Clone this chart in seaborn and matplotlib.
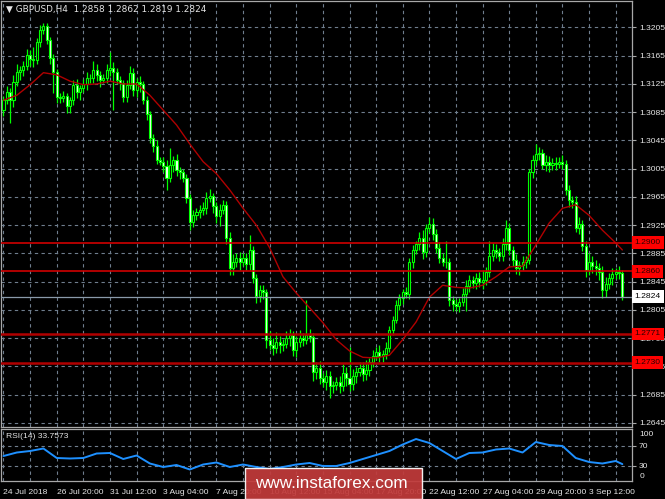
import numpy as np
import pandas as pd
import seaborn as sns
import matplotlib.pyplot as plt
import matplotlib.transforms as mtransforms
from matplotlib.patches import Rectangle

# GBPUSD H4 closes (one per bar)
closes = [1.3102, 1.3114, 1.3102, 1.3128, 1.3142, 1.3145, 1.3150, 1.3166, 1.3160, 1.3159,
          1.3184, 1.3201, 1.3207, 1.3187, 1.3162, 1.3142, 1.3107, 1.3105, 1.3108, 1.3094,
          1.3102, 1.3124, 1.3114, 1.3119, 1.3125, 1.3133, 1.3133, 1.3145, 1.3138, 1.3131,
          1.3133, 1.3145, 1.3148, 1.3142, 1.3131, 1.3126, 1.3107, 1.3124, 1.3141, 1.3116,
          1.3128, 1.3125, 1.3102, 1.3082, 1.3048, 1.3037, 1.3017, 1.3015, 1.3009, 1.2992,
          1.3010, 1.3017, 1.3003, 1.3000, 1.2992, 1.2964, 1.2930, 1.2939, 1.2944, 1.2947,
          1.2949, 1.2964, 1.2966, 1.2952, 1.2938, 1.2947, 1.2954, 1.2907, 1.2864, 1.2873,
          1.2879, 1.2873, 1.2879, 1.2870, 1.2890, 1.2850, 1.2825, 1.2833, 1.2830, 1.2763,
          1.2756, 1.2751, 1.2760, 1.2756, 1.2757, 1.2765, 1.2769, 1.2748, 1.2760, 1.2765,
          1.2763, 1.2769, 1.2767, 1.2717, 1.2723, 1.2709, 1.2703, 1.2711, 1.2697, 1.2699,
          1.2703, 1.2697, 1.2716, 1.2709, 1.2700, 1.2711, 1.2717, 1.2723, 1.2714, 1.2720,
          1.2731, 1.2740, 1.2746, 1.2740, 1.2743, 1.2751, 1.2777, 1.2791, 1.2812, 1.2822,
          1.2830, 1.2828, 1.2873, 1.2890, 1.2898, 1.2907, 1.2887, 1.2921, 1.2927, 1.2913,
          1.2893, 1.2879, 1.2873, 1.2873, 1.2819, 1.2813, 1.2810, 1.2816, 1.2828, 1.2839,
          1.2847, 1.2843, 1.2850, 1.2844, 1.2847, 1.2859, 1.2881, 1.2890, 1.2887, 1.2881,
          1.2898, 1.2921, 1.2890, 1.2876, 1.2864, 1.2869, 1.2873, 1.2876, 1.3000, 1.3017,
          1.3026, 1.3027, 1.3010, 1.3015, 1.3010, 1.3013, 1.3012, 1.3015, 1.3012, 1.2975,
          1.2961, 1.2958, 1.2921, 1.2927, 1.2896, 1.2862, 1.2873, 1.2867, 1.2864, 1.2859,
          1.2833, 1.2842, 1.2850, 1.2856, 1.2859, 1.2858, 1.2824]
first_open = 1.3088

# wick lengths in pips above / below the body
upper_pips = [6, 8, 5, 10, 12, 6, 8, 9, 7, 17, 6, 8, 4, 5, 4, 6, 4, 5, 7, 4,
              5, 6, 8, 5, 7, 9, 6, 12, 8, 5, 6, 9, 22, 8, 5, 6, 4, 7, 9, 6,
              5, 8, 4, 6, 5, 6, 8, 5, 7, 9, 25, 6, 9, 5, 4, 6, 5, 8, 6, 7,
              9, 8, 10, 5, 6, 8, 7, 5, 9, 11, 6, 8, 7, 6, 21, 5, 6, 8, 7, 5,
              12, 9, 14, 8, 7, 10, 9, 6, 8, 11, 7, 50, 9, 6, 8, 10, 7, 9, 8, 6,
              7, 9, 12, 8, 44, 10, 7, 9, 8, 14, 6, 8, 7, 9, 6, 8, 6, 5, 7, 6,
              5, 8, 6, 7, 5, 9, 11, 6, 10, 8, 6, 8, 7, 30, 5, 6, 7, 6, 8, 9,
              7, 6, 8, 9, 14, 7, 22, 10, 8, 6, 9, 12, 7, 6, 8, 5, 9, 6, 5, 7,
              14, 9, 6, 10, 8, 7, 9, 6, 10, 5, 7, 6, 8, 9, 5, 7, 12, 8, 9, 7,
              8, 10, 7, 9, 6, 8, 4]
lower_pips = [8, 6, 32, 9, 6, 12, 8, 5, 9, 10, 6, 7, 5, 6, 8, 30, 9, 7, 6, 10,
              10, 7, 9, 11, 6, 8, 7, 6, 9, 10, 5, 6, 8, 54, 6, 9, 8, 7, 6, 8,
              9, 12, 6, 8, 7, 9, 6, 5, 8, 17, 6, 9, 8, 10, 6, 8, 12, 7, 6, 9,
              7, 8, 6, 9, 10, 14, 6, 8, 10, 9, 7, 11, 6, 8, 9, 7, 10, 8, 9, 12,
              8, 10, 7, 12, 9, 6, 11, 8, 10, 7, 9, 6, 8, 12, 10, 9, 7, 11, 16, 10,
              8, 9, 7, 12, 10, 8, 9, 6, 10, 8, 9, 7, 6, 8, 9, 7, 6, 8, 5, 7,
              8, 6, 7, 9, 6, 8, 10, 7, 6, 9, 8, 7, 6, 8, 9, 10, 7, 8, 6, 24,
              9, 7, 8, 6, 10, 7, 8, 6, 9, 7, 6, 8, 7, 9, 8, 10, 7, 9, 6, 8,
              7, 9, 6, 8, 10, 7, 9, 6, 8, 7, 10, 8, 6, 9, 7, 11, 8, 10, 9, 12,
              11, 9, 8, 10, 7, 9, 5]

# moving average, sampled every 4 bars (last point on the final bar)
ma_bars = list(range(0, 185, 4)) + [186]
ma_vals = [1.3102, 1.3109, 1.3124, 1.3141, 1.3138, 1.3129, 1.3124, 1.3125, 1.3129, 1.3125,
           1.3125, 1.3109, 1.3088, 1.3067, 1.3040, 1.3015, 1.2998, 1.2975, 1.2949, 1.2925,
           1.2893, 1.2852, 1.2829, 1.2808, 1.2787, 1.2763, 1.2747, 1.2738, 1.2737, 1.2741,
           1.2763, 1.2788, 1.2823, 1.2840, 1.2837, 1.2836, 1.2840, 1.2852, 1.2866, 1.2867,
           1.2897, 1.2928, 1.2949, 1.2954, 1.2939, 1.2918, 1.2900, 1.2890]

# RSI(14), sampled every 4 bars
rsi_bars = list(range(0, 185, 4)) + [186]
rsi_vals = [50, 57, 60, 65, 46, 45, 46, 55, 56, 44, 51, 35, 28, 32, 23, 33, 37, 28, 33, 28,
            24, 28, 33, 36, 30, 30, 36, 44, 52, 60, 73, 84, 76, 60, 44, 56, 57, 63, 65, 57,
            78, 72, 70, 46, 38, 35, 40, 33.7573]

levels_light = [1.2900, 1.2860]
levels_dark = [1.2771, 1.2730]
last_price = 1.2824

tick_bars = list(range(0, 177, 16))
tick_labels = ['24 Jul 2018', '26 Jul 20:00', '31 Jul 12:00', '3 Aug 04:00', '7 Aug 20:00',
               '10 Aug 12:00', '15 Aug 04:00', '17 Aug 20:00', '22 Aug 12:00', '27 Aug 04:00',
               '29 Aug 20:00', '3 Sep 12:00']
price_ticks = [1.2645, 1.2685, 1.2725, 1.2765, 1.2805, 1.2845, 1.2885, 1.2925,
               1.2965, 1.3005, 1.3045, 1.3085, 1.3125, 1.3165, 1.3205]

sns.set_style('dark', {'axes.facecolor': 'black', 'figure.facecolor': 'black'})
plt.rcParams['font.family'] = ['Liberation Sans', 'DejaVu Sans']

df = pd.DataFrame({'bar': np.arange(len(closes)), 'close': closes})
df['open'] = [first_open] + closes[:-1]
df['top'] = df[['open', 'close']].max(axis=1)
df['bot'] = df[['open', 'close']].min(axis=1)
df['high'] = df['top'] + np.array(upper_pips) * 0.0001
df['low'] = df['bot'] - np.array(lower_pips) * 0.0001
df['bull'] = df['close'] >= df['open']

W, H = 665, 499
fig = plt.figure(figsize=(W / 100, H / 100), dpi=100)
fig.patch.set_facecolor('black')
ax = fig.add_axes([1 / W, 1 - 427 / H, 631 / W, 426 / H])
ax_rsi = fig.add_axes([1 / W, 1 - 481 / H, 631 / W, 52 / H], sharex=ax)

grid_col = '#6F7E8E'
txt_col = '#E6E6E6'
green = '#00FF00'
fs = 6.1

for a in (ax, ax_rsi):
    a.set_facecolor('black')
    for s in a.spines.values():
        s.set_color('#A8A8A8')
        s.set_linewidth(0.9)
    a.yaxis.tick_right()
    a.tick_params(axis='both', colors='#A8A8A8', labelcolor=txt_col, labelsize=fs,
                  length=3, width=0.8, direction='out', pad=2)
    a.set_xticks(np.arange(0, 189, 8), minor=True)
    a.grid(True, which='both', axis='x', color=grid_col, linestyle=(0, (3, 3)), lw=0.8)
    a.grid(True, which='major', axis='y', color=grid_col, linestyle=(0, (3, 3)), lw=0.8)
    a.tick_params(axis='x', which='minor', length=0)

# price panel
ax.vlines(df['bar'], df['low'], df['high'], color=green, lw=0.9, zorder=3)
ax.bar(df['bar'], (df['top'] - df['bot']).clip(lower=0.00002), bottom=df['bot'], width=0.62,
       color=np.where(df['bull'], 'black', '#F4FFF4'), edgecolor=green, linewidth=0.8, zorder=4)
sns.lineplot(x=ma_bars, y=ma_vals, color='#B00000', lw=1.0, ax=ax, zorder=5)

for lv in levels_light:
    ax.axhline(lv, color='#D00000', lw=1.2, zorder=6)
for lv in levels_dark:
    ax.axhline(lv, color='#B00000', lw=1.8, zorder=6)
ax.axhline(last_price, color='#8A9AAA', lw=0.9, zorder=6)

ax.set_xlim(-0.75, 188.9)
ax.set_ylim(1.26393, 1.32425)
ax.set_yticks(price_ticks)
ax.set_yticklabels([f'{p:.4f}' for p in price_ticks])
ax.set_xticks(tick_bars)
ax.tick_params(axis='x', labelbottom=False, length=0)
ax.set_xlabel('')
ax.set_ylabel('')

trans = mtransforms.blended_transform_factory(ax.transAxes, ax.transData)
for lv in levels_light + levels_dark:
    ax.text(1.004, lv, f'{lv:.4f}', transform=trans, ha='left', va='center', fontsize=fs,
            color='#2A0000', clip_on=False, zorder=20,
            bbox=dict(boxstyle='square,pad=0.35', fc='#FF0000', ec='none'))
ax.text(1.004, last_price, f'{last_price:.4f}', transform=trans, ha='left', va='center',
        fontsize=fs, color='black', clip_on=False, zorder=20,
        bbox=dict(boxstyle='square,pad=0.35', fc='white', ec='none'))

ax.text(0.008, 0.992, '\u25bc GBPUSD,H4  1.2858 1.2862 1.2819 1.2824', transform=ax.transAxes,
        ha='left', va='top', fontsize=6.4, color=txt_col, family=['DejaVu Sans'])

# RSI panel
sns.lineplot(x=rsi_bars, y=rsi_vals, color='#1E90FF', lw=1.4, ax=ax_rsi)
ax_rsi.set_ylim(0, 104)
ax_rsi.set_yticks([30, 70])
ax_rsi.set_yticklabels(['30', '70'])
rtrans = mtransforms.blended_transform_factory(ax_rsi.transAxes, ax_rsi.transData)
for val, lab in [(92, '100'), (10, '0')]:
    ax_rsi.text(1.012, val, lab, transform=rtrans, ha='left', va='center', fontsize=fs,
                color=txt_col, clip_on=False)
ax_rsi.set_xticks(tick_bars)
ax_rsi.set_xticklabels(tick_labels, ha='left')
ax_rsi.tick_params(axis='x', pad=3)
ax_rsi.set_xlabel('')
ax_rsi.set_ylabel('')
ax_rsi.text(0.008, 0.86, 'RSI(14) 33.7573', transform=ax_rsi.transAxes, ha='left', va='center',
            fontsize=fs, color=txt_col)

# watermark
fig.patches.append(Rectangle((245 / W, 0), 177 / W, 31 / H, transform=fig.transFigure,
                             facecolor='#C23B3B', alpha=0.93, zorder=30))
fig.text(331 / W, 1 - 484 / H, 'www.instaforex.com', ha='center', va='center', fontsize=12.3,
         color='white', zorder=31)

fig.savefig('out.png', dpi=100, facecolor='black')
